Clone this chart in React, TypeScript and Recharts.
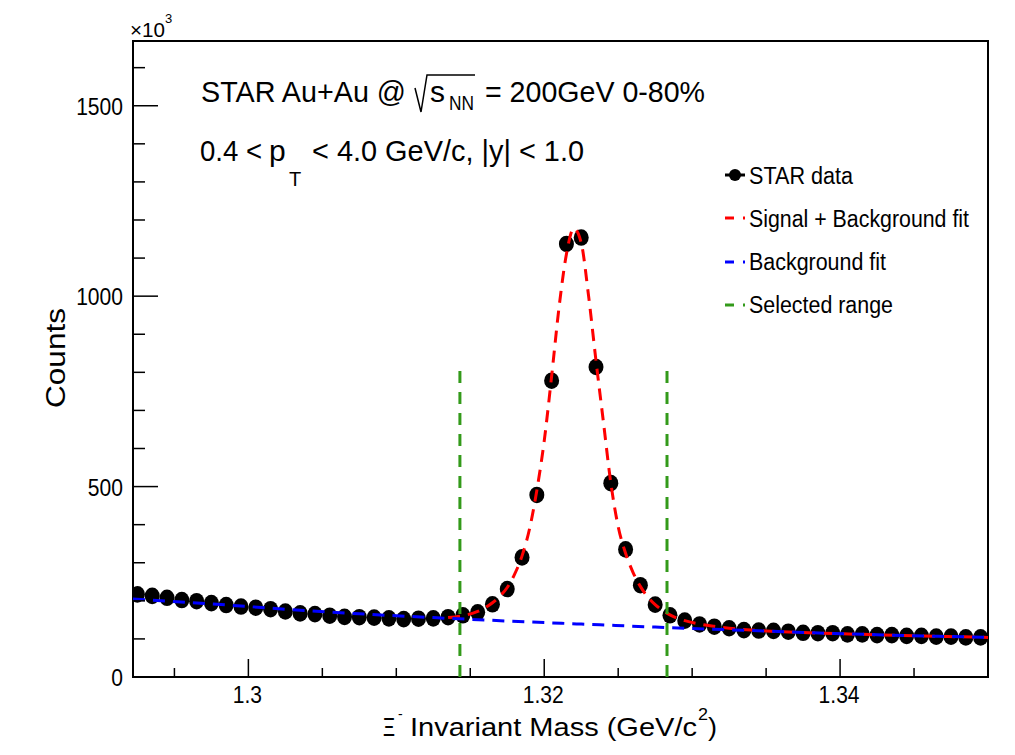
import React from 'react';
import {
  ComposedChart,
  Line,
  Scatter,
  XAxis,
  YAxis,
  ReferenceLine,
  ReferenceArea,
} from 'recharts';

// bin centres (GeV/c^2) and counts (x10^3)
const massBins = [
  1.2925, 1.2935, 1.2945, 1.2955, 1.2965, 1.2975, 1.2985, 1.2995, 1.3005, 1.3015,
  1.3025, 1.3035, 1.3045, 1.3055, 1.3065, 1.3075, 1.3085, 1.3095, 1.3105, 1.3115,
  1.3125, 1.3135, 1.3145, 1.3155, 1.3165, 1.3175, 1.3185, 1.3195, 1.3205, 1.3215,
  1.3225, 1.3235, 1.3245, 1.3255, 1.3265, 1.3275, 1.3285, 1.3295, 1.3305, 1.3315,
  1.3325, 1.3335, 1.3345, 1.3355, 1.3365, 1.3375, 1.3385, 1.3395, 1.3405, 1.3415,
  1.3425, 1.3435, 1.3445, 1.3455, 1.3465, 1.3475, 1.3485, 1.3495,
];
const counts = [
  217, 213, 208, 202, 199, 194, 189, 185, 182, 178,
  172, 167, 165, 161, 158, 157, 156, 154, 152, 153,
  154, 157, 162, 170, 191, 231, 314, 478, 778, 1137,
  1154, 814, 509, 335, 241, 190, 162, 148, 138, 132,
  128, 123, 122, 121, 119, 116, 115, 115, 112, 112,
  110, 110, 108, 108, 106, 106, 104, 104,
];

// signal + background fit
const sigBgMass = [
  1.3135, 1.3145, 1.3155, 1.3165, 1.317, 1.3175, 1.318, 1.3185, 1.319, 1.3195,
  1.32, 1.3205, 1.321, 1.3215, 1.322, 1.3225, 1.323, 1.3235, 1.324, 1.3245,
  1.325, 1.3255, 1.326, 1.3265, 1.327, 1.3275, 1.328, 1.3285, 1.3295, 1.3305,
  1.3315, 1.3325, 1.3345, 1.3375, 1.3415, 1.3455, 1.35,
];
const sigBgFit = [
  156, 161, 172, 195, 212, 235, 270, 318, 388, 490,
  620, 790, 970, 1110, 1178, 1140, 1000, 830, 670, 510,
  395, 325, 275, 238, 210, 190, 175, 163, 148, 139,
  133, 128, 122, 117, 112, 108, 104,
];

// background fit
const bgMass = [1.2922, 1.2975, 1.3025, 1.3075, 1.3125, 1.3175, 1.3225, 1.3275, 1.3325, 1.3375, 1.3425, 1.35];
const bgFit = [205, 192, 178, 166, 156, 147, 139, 131, 124, 117, 111, 104];

// selected integration range
const rangeEdges = [1.3143, 1.3283];
const rangeTop = 808;

const xDomain = [1.2922, 1.35];
const yDomain = [0, 1670];
const xTicks = [1.295, 1.3, 1.305, 1.31, 1.315, 1.32, 1.325, 1.33, 1.335, 1.34, 1.345];
const xMajor = [1.3, 1.32, 1.34];
const xLabels = ['1.3', '1.32', '1.34'];
const yTicks = [0, 100, 200, 300, 400, 500, 600, 700, 800, 900, 1000, 1100, 1200, 1300, 1400, 1500, 1600];
const yMajor = [0, 500, 1000, 1500];

const FONT = '"Liberation Sans", Arial, Helvetica, sans-serif';
const RED = '#ff0000';
const BLUE = '#0000ff';
const GREEN = '#339a1a';

const points = massBins.map((x, i) => ({ x, y: counts[i] }));
const sigBgData = sigBgMass.map((x, i) => ({ x, y: sigBgFit[i] }));
const bgData = bgMass.map((x, i) => ({ x, y: bgFit[i] }));

const XTick = (props: any) => {
  const { x, y, payload } = props;
  const idx = xMajor.findIndex((m) => Math.abs(m - payload.value) < 1e-6);
  const len = idx >= 0 ? 18 : 9;
  return (
    <g>
      <line x1={x} x2={x} y1={y} y2={y - len} stroke="#000" strokeWidth={1.5} />
      {idx >= 0 && (
        <g transform={`translate(${x - 1},${y + 26}) scale(0.86,1)`}>
          <text x={0} y={0} textAnchor="middle" fontSize={24.5} fontFamily={FONT} fill="#000">
            {xLabels[idx]}
          </text>
        </g>
      )}
    </g>
  );
};

const YTick = (props: any) => {
  const { x, y, payload } = props;
  const major = yMajor.includes(payload.value);
  const len = major ? 25 : 12;
  return (
    <g>
      <line x1={x} x2={x + len} y1={y} y2={y} stroke="#000" strokeWidth={1.5} />
      {major && (
        <g transform={`translate(${x - 10},${y + 9}) scale(0.86,1)`}>
          <text x={0} y={0} textAnchor="end" fontSize={24.5} fontFamily={FONT} fill="#000">
            {payload.value}
          </text>
        </g>
      )}
    </g>
  );
};

const Dot = (props: any) => (
  <ellipse cx={props.cx} cy={props.cy} rx={7.5} ry={8.3} fill="#000" />
);

const T = ({ x, y, size, len, children, anchor }: any) => (
  <text
    x={x}
    y={y}
    fontSize={size}
    fontFamily={FONT}
    fill="#000"
    textAnchor={anchor || 'start'}
    textLength={len}
    lengthAdjust={len ? 'spacingAndGlyphs' : undefined}
  >
    {children}
  </text>
);

const Overlay = () => (
  <svg
    width={1000}
    height={740}
    style={{ position: 'absolute', left: 0, top: 0, pointerEvents: 'none' }}
  >
    {/* exponent */}
    <T x={122} y={29} size={19.5} len={35}>×10</T>
    <T x={157} y={15} size={13}>3</T>

    {/* title lines */}
    <T x={193} y={94} size={30} len={205}>STAR Au+Au @</T>
    <path d="M407 80 L413 104 L419 67 L467 67" stroke="#000" strokeWidth={1.5} fill="none" />
    <T x={422} y={94} size={30}>s</T>
    <T x={441} y={102} size={21} len={25}>NN</T>
    <T x={477} y={94} size={30} len={220}>= 200GeV 0-80%</T>

    <T x={192} y={153} size={30} len={62}>0.4 &lt;</T>
    <T x={261} y={153} size={30}>p</T>
    <T x={281} y={178} size={20}>T</T>
    <T x={304} y={153} size={30} len={272}>&lt; 4.0 GeV/c, |y| &lt; 1.0</T>

    {/* legend */}
    <line x1={717} x2={737} y1={167} y2={167} stroke="#000" strokeWidth={3} />
    <circle cx={727} cy={167} r={6} fill="#000" />
    <T x={741} y={176} size={23.5} len={104}>STAR data</T>

    <line x1={717} x2={726} y1={210} y2={210} stroke={RED} strokeWidth={3} />
    <line x1={735} x2={737} y1={210} y2={210} stroke={RED} strokeWidth={3} />
    <T x={741} y={219} size={23.5} len={220}>Signal + Background fit</T>

    <line x1={717} x2={726} y1={254} y2={254} stroke={BLUE} strokeWidth={3} />
    <line x1={735} x2={737} y1={254} y2={254} stroke={BLUE} strokeWidth={3} />
    <T x={741} y={262} size={23.5} len={137}>Background fit</T>

    <line x1={717} x2={726} y1={297} y2={297} stroke={GREEN} strokeWidth={3} />
    <line x1={735} x2={737} y1={297} y2={297} stroke={GREEN} strokeWidth={3} />
    <T x={741} y={305} size={23.5} len={144}>Selected range</T>

    {/* axis titles */}
    <g transform="translate(56.5,350) rotate(-90)">
      <T x={0} y={0} size={27} len={100} anchor="middle">Counts</T>
    </g>
    <T x={375} y={728} size={25} len={12}>Ξ</T>
    <T x={390} y={711} size={14}>-</T>
    <T x={402} y={728} size={25} len={287}>Invariant Mass (GeV/c</T>
    <T x={690} y={712} size={16} len={10}>2</T>
    <T x={700} y={728} size={25} len={9}>)</T>
  </svg>
);

export default function App() {
  return (
    <div style={{ position: 'relative', width: 1000, height: 740, fontFamily: FONT }}>
      <ComposedChart
        width={1000}
        height={735}
        margin={{ top: 33, right: 20, left: 0, bottom: 0 }}
      >
        <XAxis
          dataKey="x"
          type="number"
          domain={xDomain}
          allowDataOverflow
          ticks={xTicks}
          interval={0}
          tickSize={0}
          tickMargin={0}
          height={66}
          axisLine={{ stroke: '#000', strokeWidth: 2 }}
          tick={<XTick />}
        />
        <YAxis
          type="number"
          domain={yDomain}
          allowDataOverflow
          ticks={yTicks}
          interval={0}
          tickSize={0}
          tickMargin={0}
          width={125}
          axisLine={{ stroke: '#000', strokeWidth: 2 }}
          tick={<YTick />}
        />
        <ReferenceArea
          x1={xDomain[0]}
          x2={xDomain[1]}
          y1={yDomain[0]}
          y2={yDomain[1]}
          fill="none"
          stroke="#000"
          strokeWidth={2}
        />
        <Scatter data={points} dataKey="y" shape={<Dot />} isAnimationActive={false} zIndex={300} />
        <Line
          data={sigBgData}
          dataKey="y"
          type="monotone"
          stroke={RED}
          strokeWidth={3}
          strokeDasharray="12 8"
          dot={false}
          activeDot={false}
          isAnimationActive={false}
          zIndex={700}
        />
        <Line
          data={bgData}
          dataKey="y"
          type="monotone"
          stroke={BLUE}
          strokeWidth={3}
          strokeDasharray="12 8"
          dot={false}
          activeDot={false}
          isAnimationActive={false}
          zIndex={710}
        />
        {rangeEdges.map((e) => (
          <ReferenceLine
            key={e}
            segment={[
              { x: e, y: 0 },
              { x: e, y: rangeTop },
            ]}
            stroke={GREEN}
            strokeWidth={3}
            strokeDasharray="12 9"
            zIndex={720}
          />
        ))}
      </ComposedChart>
      <Overlay />
    </div>
  );
}
